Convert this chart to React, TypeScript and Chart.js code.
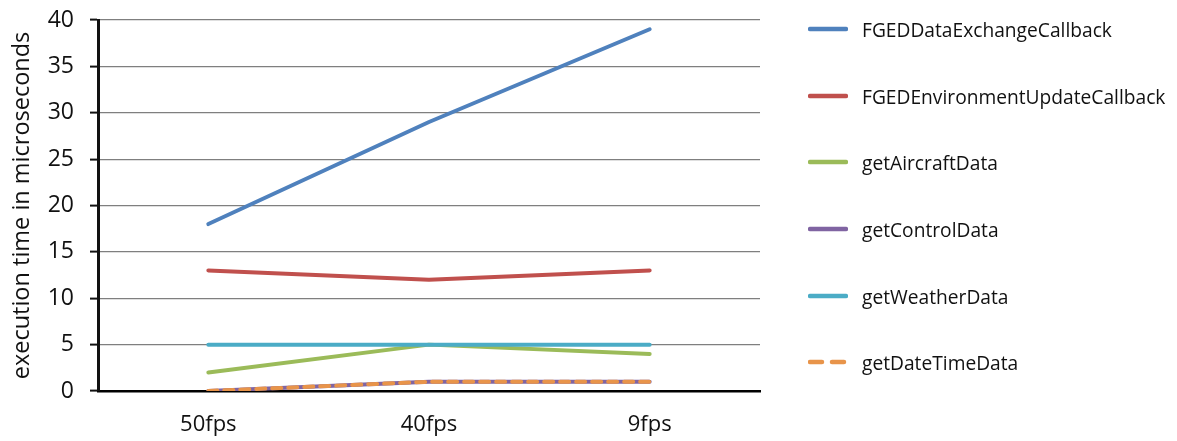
import React, { useEffect, useRef } from "react";
import { Chart, registerables } from "chart.js";

Chart.register(...registerables);

const categories = ["50fps", "40fps", "9fps"];

const seriesNames = [
  "FGEDDataExchangeCallback",
  "FGEDEnvironmentUpdateCallback",
  "getAircraftData",
  "getControlData",
  "getWeatherData",
  "getDateTimeData",
];

const dataExchange = [18, 29, 39];
const environmentUpdate = [13, 12, 13];
const aircraftData = [2, 5, 4];
const controlData = [0, 1, 1];
const weatherData = [5, 5, 5];
const dateTimeData = [0, 1, 1];

const seriesValues = [
  dataExchange,
  environmentUpdate,
  aircraftData,
  controlData,
  weatherData,
  dateTimeData,
];

const seriesColors = ["#4F81BD", "#C0504D", "#9BBB59", "#8064A2", "#4BACC6", "#E8944A"];
const seriesDashed = [false, false, false, false, false, true];

const yTicks = [0, 5, 10, 15, 20, 25, 30, 35, 40];
const yTitle = "execution time in microseconds";

const FONT = "'Open Sans', 'Noto Sans', sans-serif";

export default function App() {
  const canvasRef = useRef<HTMLCanvasElement | null>(null);

  useEffect(() => {
    if (!canvasRef.current) return;
    const chart = new Chart(canvasRef.current, {
      type: "line",
      data: {
        labels: categories,
        datasets: seriesNames.map((name, i) => ({
          label: name,
          data: seriesValues[i],
          borderColor: seriesColors[i],
          backgroundColor: seriesColors[i],
          borderWidth: 4,
          borderDash: seriesDashed[i] ? [9, 7] : [],
          borderCapStyle: "round" as const,
          borderJoinStyle: "round" as const,
          pointRadius: 0,
          tension: 0,
          order: seriesNames.length - i,
        })),
      },
      options: {
        animation: false,
        responsive: false,
        maintainAspectRatio: false,
        layout: { padding: { top: 20, right: 417, bottom: 0, left: 0 } },
        plugins: { legend: { display: false }, tooltip: { enabled: false } },
        scales: {
          x: {
            offset: true,
            grid: { display: false },
            border: { display: true, color: "#000", width: 2.5 },
            ticks: { color: "#111", padding: 13, font: { family: FONT, size: 22 } },
            afterFit: (scale: any) => {
              scale.height = 50;
              scale.paddingLeft = 0;
              scale.paddingRight = 0;
            },
          },
          y: {
            min: 0,
            max: 40,
            afterBuildTicks: (scale: any) => {
              scale.ticks = yTicks.map((v) => ({ value: v }));
            },
            grid: {
              color: "#7f7f7f",
              lineWidth: 1.2,
              tickLength: 8,
              tickColor: "#111",
              tickWidth: 2,
            },
            border: { display: true, color: "#111", width: 3 },
            ticks: { color: "#111", padding: 16, font: { family: FONT, size: 23 } },
            title: {
              display: true,
              text: yTitle,
              color: "#111",
              font: { family: FONT, size: 23.5 },
              padding: { top: 8, bottom: 0 },
            },
            afterFit: (scale: any) => {
              scale.width = 98;
              scale.paddingTop = 0;
              scale.paddingBottom = 0;
            },
          },
        },
      },
    });
    return () => chart.destroy();
  }, []);

  const rowTops = [29, 96, 162, 229, 296, 362];

  return (
    <div style={{ position: "fixed", left: 0, top: 0, width: 1177, height: 441, background: "#fff" }}>
      <canvas ref={canvasRef} width={1177} height={441} style={{ position: "absolute", left: 0, top: 0 }} />
      {seriesNames.map((name, i) => (
        <div
          key={name}
          style={{
            position: "absolute",
            left: 808,
            top: rowTops[i] - 14,
            height: 28,
            display: "flex",
            alignItems: "center",
            fontFamily: FONT,
            fontSize: 19.2,
            color: "#111",
            whiteSpace: "nowrap",
          }}
        >
          <svg width={40} height={8} style={{ marginRight: 14 }}>
            <line
              x1={2}
              y1={4}
              x2={38}
              y2={4}
              stroke={seriesColors[i]}
              strokeWidth={4.5}
              strokeLinecap="round"
              strokeDasharray={seriesDashed[i] ? "12 10" : undefined}
            />
          </svg>
          <span>{name}</span>
        </div>
      ))}
    </div>
  );
}
